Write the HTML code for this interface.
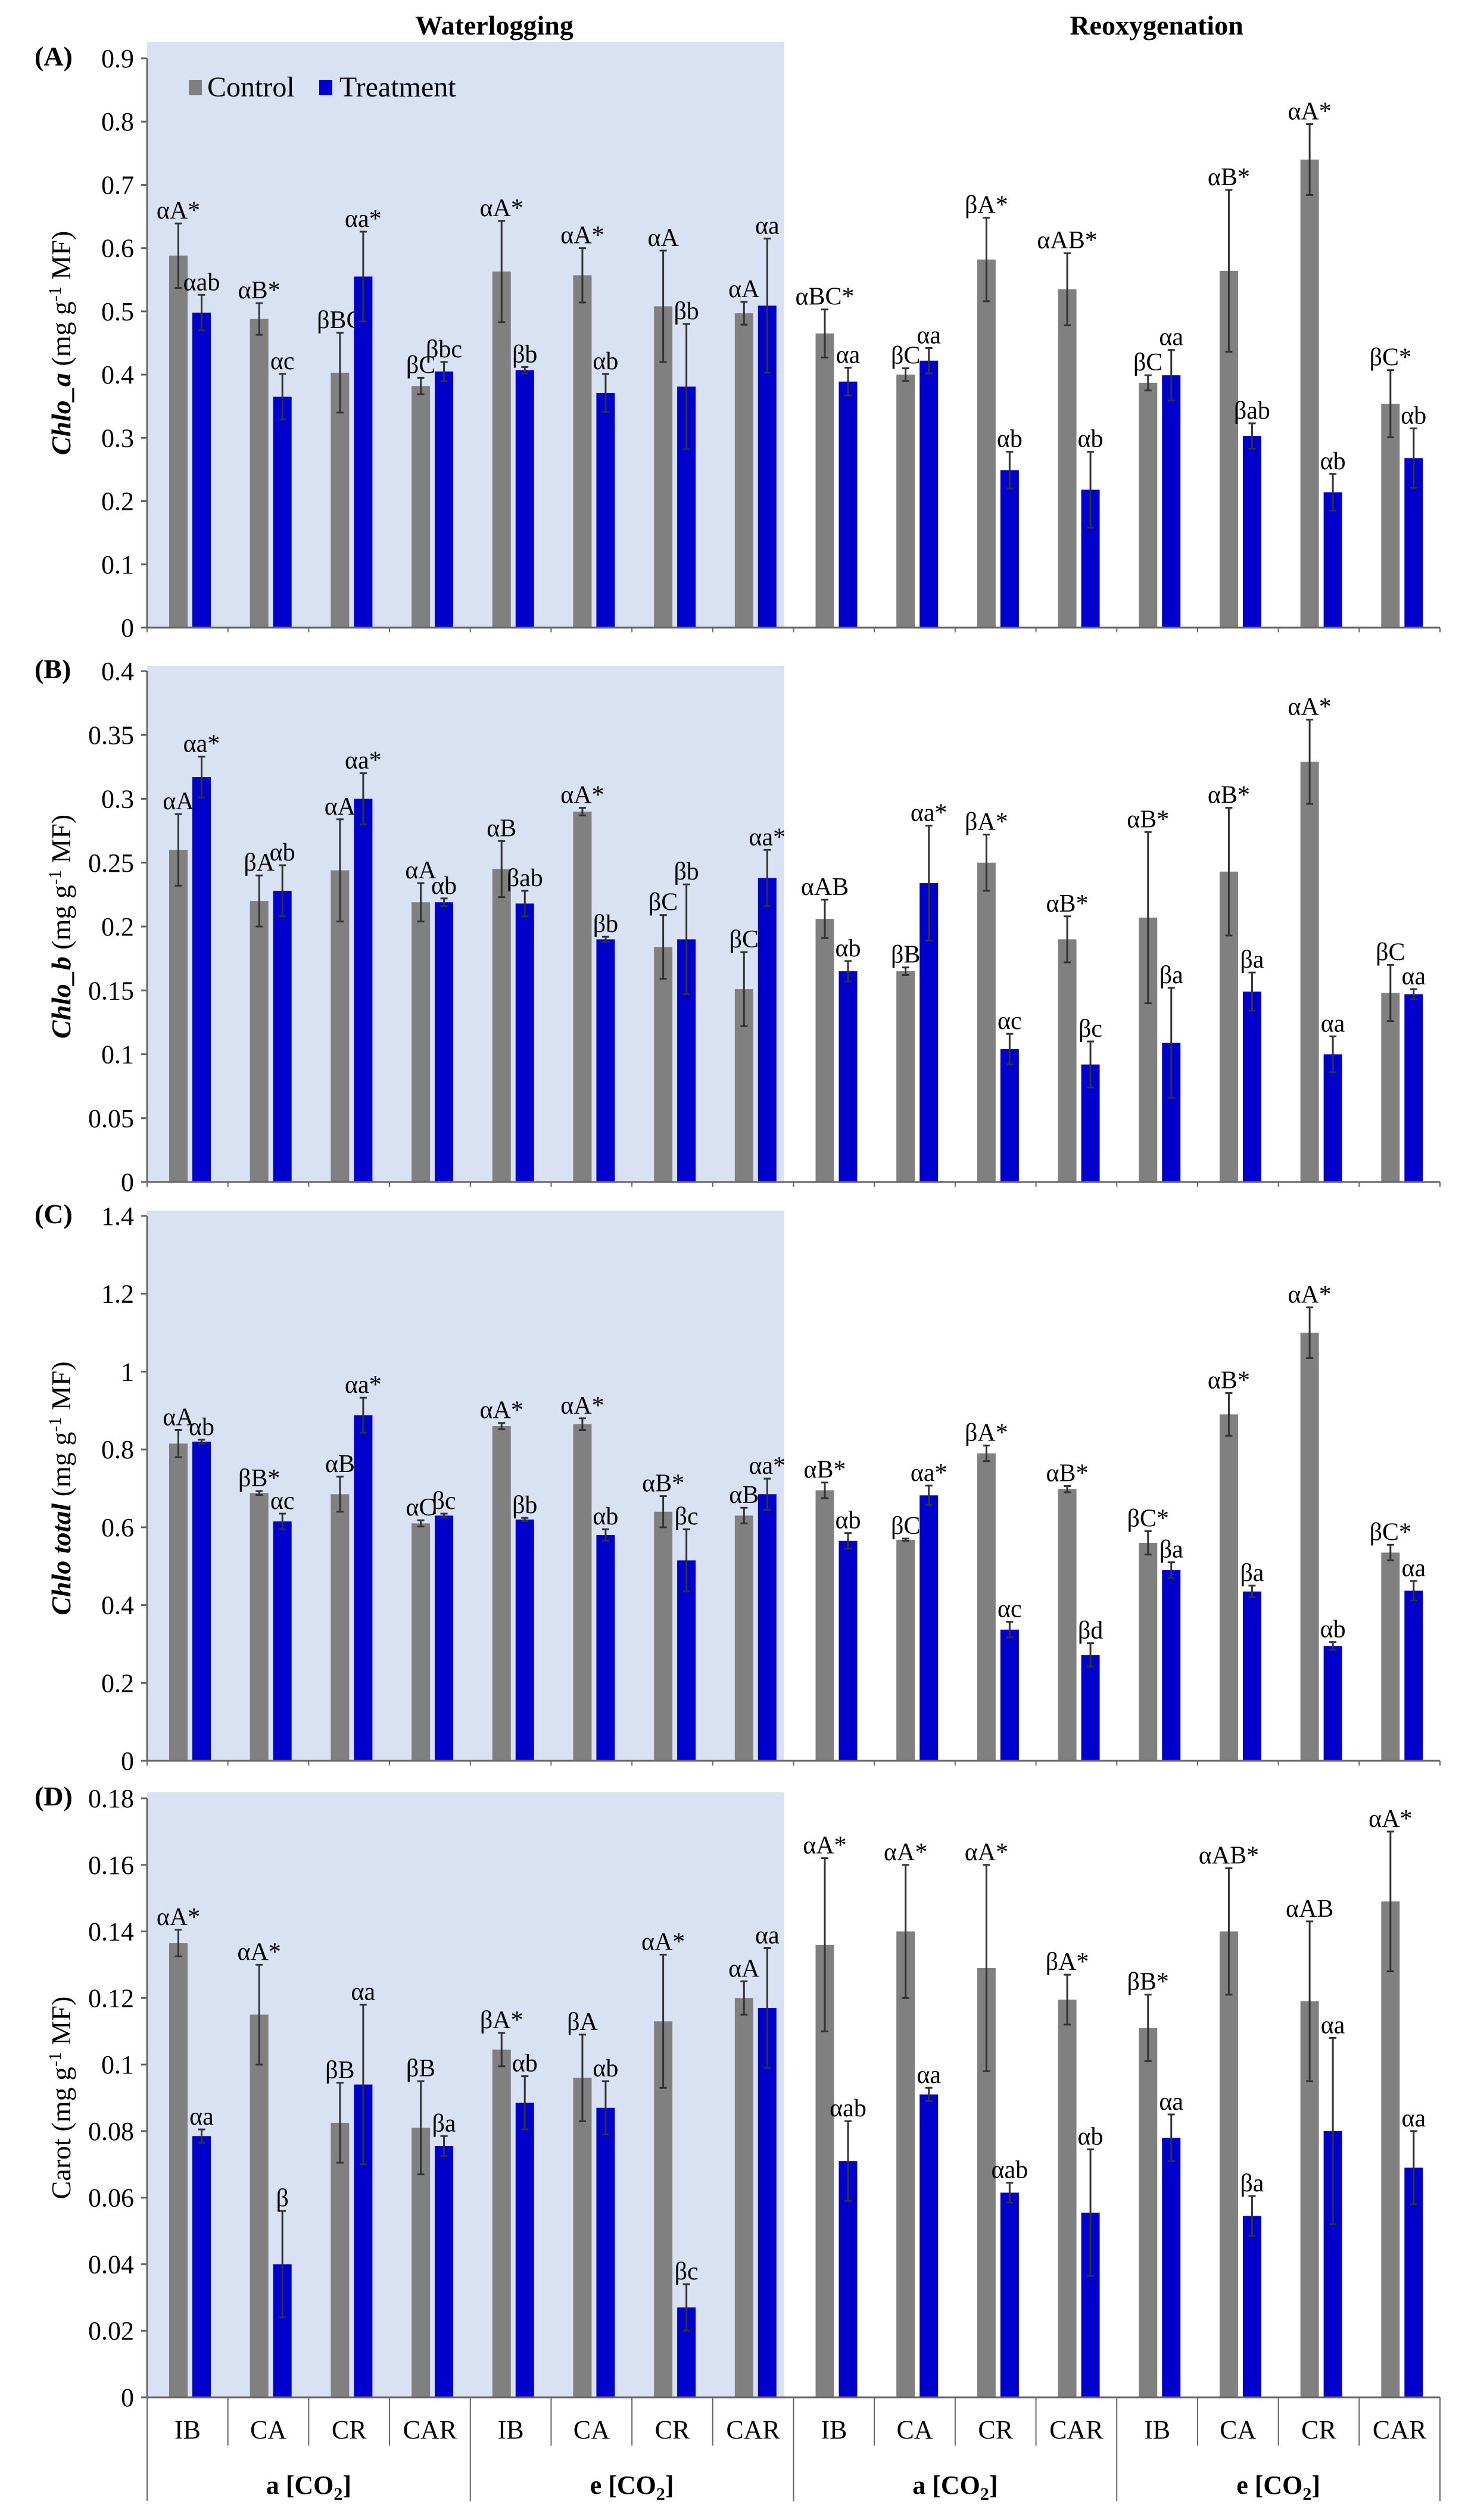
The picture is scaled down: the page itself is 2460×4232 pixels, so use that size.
<!DOCTYPE html>
<html>
<head>
<meta charset="utf-8">
<style>
html,body{margin:0;padding:0;background:#fff;}
svg{display:block;font-family:"Liberation Serif",serif;}
</style>
</head>
<body>
<svg id="chart" width="2460" height="4232" viewBox="0 0 2460 4232" xmlns="http://www.w3.org/2000/svg"></svg>
<script>
// ---- data ----
const categories = ["IB","CA","CR","CAR","IB","CA","CR","CAR","IB","CA","CR","CAR","IB","CA","CR","CAR"];
const groupLabels = ["a [CO", "e [CO", "a [CO", "e [CO"];

const aControl = [0.588,0.488,0.403,0.382,0.563,0.557,0.508,0.497,0.465,0.400,0.582,0.535,0.387,0.564,0.740,0.354];
const aControlErr = [0.051,0.025,0.063,0.013,0.080,0.043,0.088,0.018,0.038,0.010,0.066,0.057,0.012,0.128,0.056,0.053];
const aTreat = [0.498,0.365,0.555,0.405,0.407,0.371,0.381,0.509,0.389,0.422,0.249,0.218,0.399,0.303,0.214,0.268];
const aTreatErr = [0.028,0.036,0.071,0.015,0.005,0.030,0.099,0.106,0.022,0.020,0.029,0.060,0.040,0.020,0.029,0.047];
const aControlLbl = ["αA*","αB*","βBC","βC","αA*","αA*","αA","αA","αBC*","βC","βA*","αAB*","βC","αB*","αA*","βC*"];
const aTreatLbl = ["αab","αc","αa*","βbc","βb","αb","βb","αa","αa","αa","αb","αb","αa","βab","αb","αb"];
const aTicks = ["0","0.1","0.2","0.3","0.4","0.5","0.6","0.7","0.8","0.9"];

const bControl = [0.260,0.220,0.244,0.219,0.245,0.290,0.184,0.151,0.206,0.165,0.250,0.190,0.207,0.243,0.329,0.148];
const bControlErr = [0.028,0.020,0.040,0.015,0.022,0.003,0.025,0.029,0.015,0.003,0.022,0.018,0.067,0.050,0.033,0.022];
const bTreat = [0.317,0.228,0.300,0.219,0.218,0.190,0.190,0.238,0.165,0.234,0.104,0.092,0.109,0.149,0.100,0.147];
const bTreatErr = [0.016,0.020,0.020,0.003,0.010,0.002,0.043,0.022,0.008,0.045,0.012,0.018,0.043,0.015,0.014,0.004];
const bControlLbl = ["αA","βA","αA","αA","αB","αA*","βC","βC","αAB","βB","βA*","αB*","αB*","αB*","αA*","βC"];
const bTreatLbl = ["αa*","αb","αa*","αb","βab","βb","βb","αa*","αb","αa*","αc","βc","βa","βa","αa","αa"];
const bTicks = ["0","0.05","0.1","0.15","0.2","0.25","0.3","0.35","0.4"];

const cControl = [0.815,0.688,0.685,0.610,0.860,0.865,0.640,0.630,0.695,0.568,0.790,0.698,0.560,0.890,1.100,0.535];
const cControlErr = [0.035,0.005,0.045,0.008,0.008,0.015,0.040,0.020,0.020,0.003,0.020,0.008,0.030,0.055,0.065,0.020];
const cTreat = [0.820,0.615,0.888,0.630,0.620,0.580,0.515,0.685,0.565,0.682,0.337,0.272,0.490,0.435,0.295,0.437];
const cTreatErr = [0.005,0.020,0.045,0.005,0.004,0.015,0.080,0.040,0.020,0.025,0.020,0.030,0.020,0.015,0.010,0.025];
const cControlLbl = ["αA","βB*","αB","αC","αA*","αA*","αB*","αB","αB*","βC","βA*","αB*","βC*","αB*","αA*","βC*"];
const cTreatLbl = ["αb","αc","αa*","βc","βb","αb","βc","αa*","αb","αa*","αc","βd","βa","βa","αb","αa"];
const cTicks = ["0","0.2","0.4","0.6","0.8","1","1.2","1.4"];

const dControl = [0.1365,0.115,0.0825,0.081,0.1045,0.096,0.113,0.120,0.136,0.140,0.129,0.1195,0.111,0.140,0.119,0.149];
const dControlErr = [0.004,0.015,0.012,0.014,0.005,0.013,0.020,0.005,0.026,0.020,0.031,0.0075,0.010,0.019,0.024,0.021];
const dTreat = [0.0785,0.040,0.094,0.0755,0.0885,0.087,0.027,0.117,0.071,0.091,0.0615,0.0555,0.078,0.0545,0.080,0.069];
const dTreatErr = [0.002,0.016,0.024,0.003,0.008,0.008,0.007,0.018,0.012,0.002,0.003,0.019,0.007,0.006,0.028,0.011];
const dControlLbl = ["αA*","αA*","βB","βB","βA*","βA","αA*","αA","αA*","αA*","αA*","βA*","βB*","αAB*","αAB","αA*"];
const dTreatLbl = ["αa","β","αa","βa","αb","αb","βc","αa","αab","αa","αab","αb","αa","βa","αa","αa"];
const dTicks = ["0","0.02","0.04","0.06","0.08","0.1","0.12","0.14","0.16","0.18"];

// ---- layout ----
const svg = document.getElementById('chart');
const NS = "http://www.w3.org/2000/svg";
const X0 = 247, X1 = 2418, N = categories.length;
const CW = (X1 - X0) / N;
const SHADE_R = 1317;
function xCat(i){ return X0 + i*CW; }

function mk(tag, attrs, parent){
  const e = document.createElementNS(NS, tag);
  for (const k in attrs) e.setAttribute(k, attrs[k]);
  (parent||svg).appendChild(e);
  return e;
}

// Titles
let t = mk('text',{x:830,y:58,'text-anchor':'middle','font-size':46,'font-weight':'bold'});


t.textContent = 'Waterlogging';
t = mk('text',{x:1942,y:58,'text-anchor':'middle','font-size':46,'font-weight':'bold'});


t.textContent = 'Reoxygenation';

function panel(cfg){
  const g = mk('g',{});
  
  
  const maxV = cfg.max;
  const y = v => cfg.y0 - (v / maxV) * (cfg.y0 - cfg.yTop);
  // background
  const bg = mk('rect',{x:X0,y:cfg.bgTop,width:SHADE_R-X0,height:cfg.y0-cfg.bgTop,fill:'#d9e2f3'},g);
  
  
  // y axis
  const ya = mk('line',{x1:X0,y1:cfg.yTop,x2:X0,y2:cfg.y0,stroke:'#666','stroke-width':3},g);
  
  
  cfg.ticks.forEach((lbl,k)=>{
    const v = parseFloat(lbl);
    const yy = y(v);
    const tk = mk('line',{x1:X0-10,y1:yy,x2:X0,y2:yy,stroke:'#666','stroke-width':3},g);
    
    
    const tl = mk('text',{x:X0-22,y:yy+15,'text-anchor':'end','font-size':44},g);
    
    
    tl.textContent = lbl;
  });
  // panel letter
  const pl = mk('text',{x:58,y:cfg.yTop+12,'font-size':46,'font-weight':'bold'},g);
  
  
  pl.textContent = cfg.letter;
  // y title
  const cy = (cfg.yTop + cfg.y0)/2;
  const yt = mk('text',{x:0,y:0,'text-anchor':'middle','font-size':46,transform:`translate(118,${cy}) rotate(-90)`},g);
  
  
  const s1 = mk('tspan',{'font-weight':cfg.titleBold?'bold':'normal','font-style':cfg.titleBold?'italic':'normal'},yt);
  s1.textContent = cfg.title + ' ';
  const s2 = mk('tspan',{},yt); s2.textContent = '(mg g';
  const s3 = mk('tspan',{dy:-16,'font-size':30},yt); s3.textContent = '-1';
  const s4 = mk('tspan',{dy:16},yt); s4.textContent = ' MF)';
  // bars
  for (let i=0;i<N;i++){
    const bx = xCat(i);
    const series = [
      {v:cfg.c[i], e:cfg.ce[i], l:cfg.cl[i], off:37, col:'#808080', nm:'control'},
      {v:cfg.t[i], e:cfg.te[i], l:cfg.tl[i], off:76, col:'#0000cc', nm:'treatment'}
    ];
    series.forEach(s=>{
      const top = y(s.v);
      const r = mk('rect',{x:bx+s.off,y:top,width:31,height:cfg.y0-top,fill:s.col},g);
      
      
      const cx = bx+s.off+15.5;
      const et = y(s.v+s.e), eb = y(Math.max(0,s.v-s.e));
      const el = mk('line',{x1:cx,y1:et,x2:cx,y2:eb,stroke:'#333','stroke-width':3},g);
      
      
      const c1 = mk('line',{x1:cx-6,y1:et,x2:cx+6,y2:et,stroke:'#333','stroke-width':3},g);
      
      
      const c2 = mk('line',{x1:cx-6,y1:eb,x2:cx+6,y2:eb,stroke:'#333','stroke-width':3},g);
      
      
      const lt = mk('text',{x:cx,y:et-8,'text-anchor':'middle','font-size':42},g);
      
      
      lt.textContent = s.l;
    });
  }
  // x axis
  const xa = mk('line',{x1:X0,y1:cfg.y0,x2:X1,y2:cfg.y0,stroke:'#666','stroke-width':3},g);
  
  
  for (let i=0;i<=N;i++){
    const tk = mk('line',{x1:xCat(i),y1:cfg.y0,x2:xCat(i),y2:cfg.y0+(cfg.last?(i%4===0?174:81):8),stroke:'#666','stroke-width':2},g);
    
    
  }
  if (cfg.last){
    for (let i=0;i<N;i++){
      const cl = mk('text',{x:xCat(i)+CW/2,y:cfg.y0+69,'text-anchor':'middle','font-size':44},g);
      
      
      cl.textContent = categories[i];
    }
    groupLabels.forEach((gl,k)=>{
      const tx = mk('text',{x:xCat(k*4)+2*CW,y:cfg.y0+162,'text-anchor':'middle','font-size':44,'font-weight':'bold'},g);
      
      
      const a = mk('tspan',{},tx); a.textContent = gl;
      const b = mk('tspan',{dy:10,'font-size':30},tx); b.textContent = '2';
      const c = mk('tspan',{dy:-10},tx); c.textContent = ']';
    });
  }
}

panel({name:'panel-a-chlo-a',letter:'(A)',yTop:98,y0:1054,bgTop:70,max:0.9,ticks:aTicks,title:'Chlo_a',titleBold:true,c:aControl,ce:aControlErr,t:aTreat,te:aTreatErr,cl:aControlLbl,tl:aTreatLbl});
panel({name:'panel-b-chlo-b',letter:'(B)',yTop:1127,y0:1985,bgTop:1118,max:0.4,ticks:bTicks,title:'Chlo_b',titleBold:true,c:bControl,ce:bControlErr,t:bTreat,te:bTreatErr,cl:bControlLbl,tl:bTreatLbl});
panel({name:'panel-c-chlo-total',letter:'(C)',yTop:2042,y0:2957,bgTop:2033,max:1.4,ticks:cTicks,title:'Chlo total',titleBold:true,c:cControl,ce:cControlErr,t:cTreat,te:cTreatErr,cl:cControlLbl,tl:cTreatLbl});
panel({name:'panel-d-carot',letter:'(D)',yTop:3020,y0:4026,bgTop:3010,max:0.18,ticks:dTicks,title:'Carot',titleBold:false,c:dControl,ce:dControlErr,t:dTreat,te:dTreatErr,cl:dControlLbl,tl:dTreatLbl,last:true});

// legend
const lg = mk('g',{});


let r = mk('rect',{x:317,y:134,width:22,height:26,fill:'#808080'},lg);


let lt = mk('text',{x:348,y:162,'font-size':48},lg);


lt.textContent = 'Control';
r = mk('rect',{x:536,y:134,width:22,height:26,fill:'#0000cc'},lg);


lt = mk('text',{x:570,y:162,'font-size':48},lg);


lt.textContent = 'Treatment';
</script>
</body>
</html>
